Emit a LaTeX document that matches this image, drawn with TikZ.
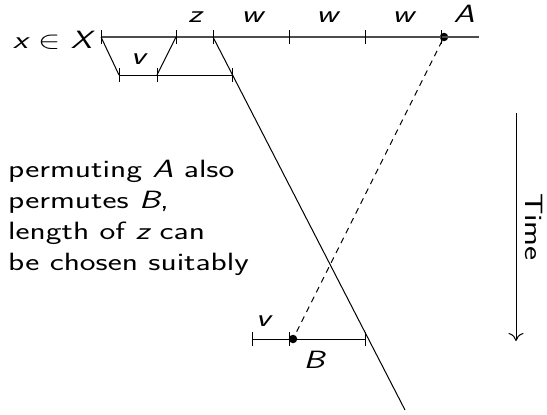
\documentclass[tikz,border=0pt]{standalone}
\usepackage{fontspec}
\usepackage{graphicx}
\usetikzlibrary{arrows.meta}
\newcommand{\bigsans}{\fontsize{25}{31}\selectfont\sffamily}
\newcommand{\W}[1]{\scalebox{1.34}[1]{#1}}
\begin{document}
\begin{tikzpicture}[x=1pt,y=-1pt,
  lbl/.style={font=\bigsans\itshape, inner sep=0pt},
  txt/.style={font=\bigsans, inner sep=0pt},
  seg/.style={line width=1pt},
  topseg/.style={line width=1.2pt, draw=black!70},
  tick/.style={line width=1pt},
  dot/.style={circle, fill=black, inner sep=0pt, minimum size=8.5pt}]
\useasboundingbox (0,0) rectangle (547,415);
% top line
\coordinate (t0) at (101,37);
\coordinate (t1) at (176,37);
\coordinate (t2) at (213,37);
\coordinate (t3) at (289,37);
\coordinate (t4) at (365,37);
\coordinate (t5) at (441,37);
\coordinate (tend) at (479,37);
\node[dot] (A) at (444,37) {};
\draw[topseg] (t0) -- (tend);
\foreach \p in {t0,t1,t2,t3,t4,t5} \draw[tick] ([yshift=-7pt]\p) -- ([yshift=7pt]\p);
% second line
\coordinate (s0) at (119,75);
\coordinate (s1) at (157,75);
\coordinate (s2) at (232,75);
\draw[seg] (s0) -- (s2);
\foreach \p in {s0,s1,s2} \draw[tick] ([yshift=-7pt]\p) -- ([yshift=7pt]\p);
\draw[seg] (t0) -- (s0);
\draw[seg] (t1) -- (s1);
\coordinate (bottom) at (405,410);
\draw[seg] (t2) -- (bottom);
% bottom line
\coordinate (b0) at (252,339);
\coordinate (b1) at (289,339);
\coordinate (b2) at (365,339);
\node[dot] (B) at (293,339) {};
\draw[seg] (b0) -- (b2);
\foreach \p in {b0,b1,b2} \draw[tick] ([yshift=-7pt]\p) -- ([yshift=7pt]\p);
\draw[seg, dashed, dash pattern=on 6pt off 5pt] (A) -- (B);
% labels
\node[lbl] (lz) at (195,17) {\W{z}};
\node[lbl] (lw1) at (252,17) {\W{w}};
\node[lbl] (lw2) at (327,17) {\W{w}};
\node[lbl] (lw3) at (403,17) {\W{w}};
\node[lbl] (lA) at (464,14) {\W{A}};
\node[lbl] (lv1) at (138,59) {\W{v}};
\node[lbl] (lv2) at (263,321) {\W{v}};
\node[lbl] (lB) at (314,360) {\W{B}};
\node[txt, anchor=east] (lx) at (92,40) {\W{\itshape x {\upshape$\in$} X}};
\node[txt, anchor=north west, align=left] (note) at (8,160) {\W{permuting {\itshape A} also}\\\W{permutes {\itshape B},}\\\W{length of {\itshape z} can}\\\W{be chosen suitably}};
% time arrow
\coordinate (ts) at (516,113);
\coordinate (te) at (516,341);
\draw[line width=1pt, -{To[length=8pt,width=15pt]}] (ts) -- (te);
\node[txt, rotate=-90] (time) at (534,227) {\W{Time}};
\end{tikzpicture}
\end{document}
